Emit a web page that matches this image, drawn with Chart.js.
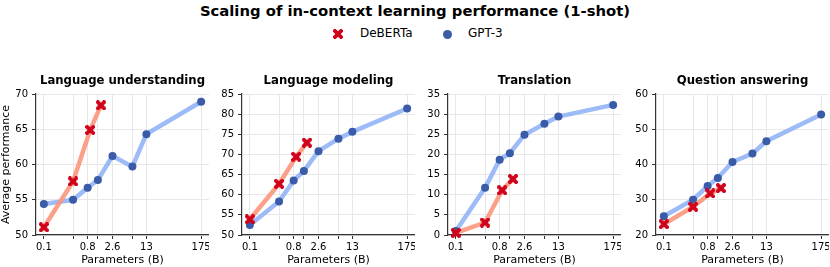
<!DOCTYPE html>
<html>
<head>
<meta charset="utf-8">
<script src="https://cdn.jsdelivr.net/npm/chart.js@4.4.1/dist/chart.umd.min.js"></script>
<style>
  body { margin: 0; background: #fff; font-family: "DejaVu Sans", sans-serif; }
  #wrap { position: relative; width: 830px; height: 267px; overflow: hidden; }
  #title { position: absolute; left: 0; width: 830px; top: 2px; text-align: center;
           font-weight: bold; font-size: 14.8px; color: #000; }
  .leg { position: absolute; top: 26px; font-size: 12px; color: #000; }
  .box { position: absolute; top: 66px; height: 201px; }
</style>
</head>
<body>
<div id="wrap">
  <div id="title">Scaling of in-context learning performance (1-shot)</div>
  <div class="leg" style="left:333px"><img id="legX" style="position:absolute;left:0;top:3px"><span style="position:absolute;left:27px;white-space:nowrap">DeBERTa</span></div>
  <div class="leg" style="left:443px"><span style="position:absolute;left:0;top:4px;width:9px;height:9px;border-radius:50%;background:#3a5ca8"></span><span style="position:absolute;left:25px;white-space:nowrap">GPT-3</span></div>
  <div class="box"><canvas id="c0"></canvas></div>
  <div class="box"><canvas id="c1"></canvas></div>
  <div class="box"><canvas id="c2"></canvas></div>
  <div class="box"><canvas id="c3"></canvas></div>
</div>
<script>
// model sizes (billions of parameters)
const gptParams = [0.1, 0.4, 0.8, 1.3, 2.6, 6.7, 13, 175];
const debertaParams = [0.1, 0.4, 0.9, 1.5];
const xTickValues = [0.1, 0.4, 0.8, 1.3, 2.6, 6.7, 13, 175];
const xTickLabels = ['0.1', '', '0.8', '', '2.6', '', '13', '175'];

const taskTitles = ['Language understanding', 'Language modeling', 'Translation', 'Question answering'];

const debertaUnderstanding = [51.1, 57.6, 64.9, 68.4];
const gptUnderstanding = [54.4, 55.0, 56.7, 57.8, 61.2, 59.7, 64.3, 68.9];
const debertaModeling = [53.9, 62.7, 69.4, 72.9];
const gptModeling = [52.5, 58.3, 63.5, 65.9, 70.8, 73.9, 75.6, 81.4];
const debertaTranslation = [0.5, 3.1, 11.1, 13.9];
const gptTranslation = [1.0, 11.7, 18.7, 20.3, 24.9, 27.6, 29.4, 32.3];
const debertaQA = [23.1, 28.0, 31.8, 33.3];
const gptQA = [25.3, 30.0, 33.9, 36.2, 40.7, 43.1, 46.6, 54.2];

const yMins = [50, 50, 0, 20];
const yMaxs = [70, 85, 35, 60];
const ySteps = [5, 5, 5, 10];

const debertaSeries = [debertaUnderstanding, debertaModeling, debertaTranslation, debertaQA];
const gptSeries = [gptUnderstanding, gptModeling, gptTranslation, gptQA];

// plot-area left edge and y-axis width for each panel
const plotLefts = [36, 242, 448, 656];
const yWidths = [36, 34, 34, 34];
const plotWidth = 173;

// filled "X" marker like matplotlib's
function makeX(size, color) {
  const c = document.createElement('canvas');
  c.width = size; c.height = size;
  const g = c.getContext('2d');
  const h = size / 2, a = size * 0.19, e = size * 0.62;
  g.translate(h, h);
  g.rotate(Math.PI / 4);
  g.fillStyle = color;
  g.beginPath();
  g.moveTo(-a, -e); g.lineTo(a, -e); g.lineTo(a, -a); g.lineTo(e, -a); g.lineTo(e, a);
  g.lineTo(a, a); g.lineTo(a, e); g.lineTo(-a, e); g.lineTo(-a, a); g.lineTo(-e, a);
  g.lineTo(-e, -a); g.lineTo(-a, -a); g.closePath();
  g.fill();
  return c;
}
const xMarker = makeX(10, '#d0021b');
document.getElementById('legX').src = makeX(10, '#d0021b').toDataURL();

// panel title centred over the plot area (not the whole canvas)
const panelTitle = {
  id: 'panelTitle',
  afterDraw(chart, args, opts) {
    const ctx = chart.ctx;
    const a = chart.chartArea;
    ctx.save();
    ctx.font = 'bold 11.7px "DejaVu Sans", sans-serif';
    ctx.fillStyle = '#000';
    ctx.textAlign = 'center';
    ctx.textBaseline = 'middle';
    ctx.fillText(opts.text, (a.left + a.right) / 2, 15);
    ctx.restore();
  },
};

Chart.defaults.font.family = '"DejaVu Sans", sans-serif';
Chart.defaults.color = '#000';

for (let i = 0; i < 4; i++) {
  const first = i === 0;
  const yWidth = yWidths[i];
  const canvas = document.getElementById('c' + i);
  canvas.parentNode.style.left = plotLefts[i] - yWidth + 'px';
  canvas.parentNode.style.width = plotWidth + yWidth + 'px';
  new Chart(canvas, {
    type: 'line',
    data: {
      datasets: [
        {
          label: 'DeBERTa',
          data: debertaParams.map((x, k) => ({ x: x, y: debertaSeries[i][k] })),
          borderColor: 'rgba(252, 150, 125, 0.9)',
          borderWidth: 4.5,
          pointStyle: xMarker,
          pointRadius: 5,
          pointHoverRadius: 5,
          clip: false,
        },
        {
          label: 'GPT-3',
          data: gptParams.map((x, k) => ({ x: x, y: gptSeries[i][k] })),
          borderColor: 'rgba(145, 180, 246, 0.9)',
          borderWidth: 4.5,
          pointStyle: 'circle',
          pointRadius: 4,
          pointHoverRadius: 4,
          pointBackgroundColor: '#3a5ca8',
          pointBorderWidth: 0,
          clip: false,
        },
      ],
    },
    plugins: [panelTitle],
    options: {
      responsive: true,
      maintainAspectRatio: false,
      animation: false,
      layout: { autoPadding: false, padding: { left: 0, right: 0, top: 28, bottom: 0 } },
      plugins: {
        legend: { display: false },
        tooltip: { enabled: false },
        title: { display: false },
        panelTitle: { text: taskTitles[i] },
      },
      scales: {
        x: {
          type: 'logarithmic',
          bounds: 'data',
          min: 0.0689,
          max: 254,
          afterBuildTicks: (scale) => {
            scale.ticks = xTickValues.map((v) => ({ value: v }));
          },
          afterFit: (scale) => {
            scale.height = 32;
            scale.paddingLeft = 0;
            scale.paddingRight = 0;
          },
          ticks: {
            autoSkip: false,
            maxRotation: 0,
            font: { size: 10 },
            padding: 2,
            callback: (v) => {
              const k = xTickValues.indexOf(v);
              return k >= 0 ? xTickLabels[k] : '';
            },
          },
          grid: { color: '#e8e8e8', tickColor: '#333', tickLength: 4 },
          border: { color: '#333', width: 1.2 },
          title: { display: true, text: 'Parameters (B)', font: { size: 11 }, padding: 0 },
        },
        y: {
          min: yMins[i],
          max: yMaxs[i],
          afterFit: (scale) => {
            scale.width = yWidth;
            scale.paddingTop = 0;
            scale.paddingBottom = 0;
          },
          ticks: { stepSize: ySteps[i], font: { size: 10 }, padding: 4 },
          grid: { color: '#e8e8e8', tickColor: '#333', tickLength: 4 },
          border: { color: '#333', width: 1.2 },
          title: { display: first, text: 'Average performance', font: { size: 11 }, padding: 0 },
        },
      },
    },
  });
}
</script>
</body>
</html>
